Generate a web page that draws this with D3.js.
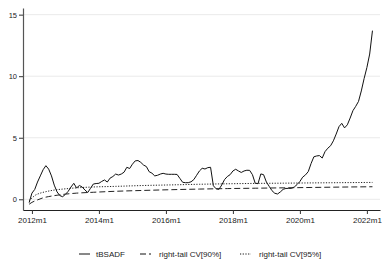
<!DOCTYPE html>
<html>
<head>
<meta charset="utf-8">
<script src="https://cdn.jsdelivr.net/npm/d3@7"></script>
<style>
  body { margin: 0; background: #fff; }
  svg { display: block; font-family: "Liberation Sans", Arial, sans-serif; }
</style>
</head>
<body>
<svg id="chart" width="382" height="264"></svg>
<script>
// months counted from 2012m1 (0 = 2012m1)
const startMonth = -1;
const bsadf = [
  -0.27, 0.5, 0.8, 1.4, 1.9, 2.4, 2.73, 2.45, 1.9, 1.15, 0.6, 0.3, 0.21,
  0.4, 0.65, 1.0, 1.3, 0.92, 1.12, 1.0, 0.75, 0.55, 0.9, 1.24, 1.28, 1.3,
  1.45, 1.57, 1.4, 1.72, 1.85, 2.05, 1.97, 2.05, 2.2, 2.6, 2.5, 2.85, 3.12,
  3.15, 3.0, 2.78, 2.66, 2.24, 2.12, 1.9, 1.95, 2.05, 2.11, 2.05, 2.03, 2.03,
  2.03, 2.02, 1.7, 1.38, 1.35, 1.35, 1.42, 1.6, 1.95, 2.3, 2.52, 2.46, 2.57,
  2.6, 1.1, 0.85, 0.81, 1.16, 1.6, 1.85, 2.0, 2.3, 2.44, 2.3, 2.18, 2.3,
  2.36, 2.35, 2.0, 1.3, 1.27, 2.06, 2.0, 1.4, 1.05, 0.7, 0.49, 0.43, 0.6,
  0.81, 0.88, 0.89, 0.89, 1.0, 1.2, 1.45, 1.8, 1.98, 2.25, 2.9, 3.45, 3.52,
  3.55, 3.35, 3.87, 4.15, 4.35, 4.75, 5.3, 5.9, 6.17, 5.8, 6.05, 6.6, 7.2,
  7.55, 7.95, 8.8, 9.8, 10.7, 11.8, 13.7
];

const cv90Months = [-1, 0, 2, 4, 6, 9, 12, 16, 22, 30, 40, 50, 60, 70, 80, 90, 100, 110, 122];
const cv90 = [-0.4, -0.25, -0.05, 0.12, 0.22, 0.33, 0.42, 0.5, 0.57, 0.65, 0.72, 0.78, 0.83, 0.87, 0.9, 0.93, 0.96, 0.99, 1.02];

const cv95Months = [-1, 0, 1, 3, 5, 8, 12, 16, 22, 30, 40, 50, 60, 70, 80, 90, 100, 110, 122];
const cv95 = [-0.1, 0.1, 0.3, 0.5, 0.62, 0.75, 0.85, 0.93, 1.0, 1.05, 1.12, 1.17, 1.22, 1.26, 1.29, 1.31, 1.33, 1.35, 1.37];

const xTicks = [0, 24, 48, 72, 96, 120];
const xTickLabels = ["2012m1", "2014m1", "2016m1", "2018m1", "2020m1", "2022m1"];
const yTicks = [0, 5, 10, 15];

const legendLabels = ["tBSADF", "right-tail CV[90%]", "right-tail CV[95%]"];
const legendDash = [null, "6,3", "1.2,1.5"];

const svg = d3.select('#chart');

const plot = {left: 23, right: 380, top: 8, bottom: 210};

const x = d3.scaleLinear()
    .domain([-3.2, 124.7])
    .range([plot.left, plot.right]);

const y = d3.scaleLinear()
    .domain([-0.87, 15.54])
    .range([plot.bottom, plot.top]);

// gridlines
svg.append('g')
    .selectAll('line')
    .data(yTicks)
    .join('line')
    .attr('x1', plot.left)
    .attr('x2', plot.right)
    .attr('y1', d => y(d))
    .attr('y2', d => y(d))
    .attr('stroke', '#eaeaea')
    .attr('stroke-width', 1);

// y axis
const yAxis = svg.append('g')
    .attr('transform', `translate(${plot.left},0)`)
    .call(d3.axisLeft(y).tickValues(yTicks).tickSize(4).tickPadding(2).tickSizeOuter(0));
yAxis.select('.domain').attr('stroke', '#555').attr('stroke-width', 1.2);
yAxis.selectAll('.tick line').attr('stroke', '#333');
yAxis.selectAll('text').attr('font-size', 7.5).attr('fill', '#222');

// x axis
const xAxis = svg.append('g')
    .attr('transform', `translate(0,${plot.bottom})`)
    .call(d3.axisBottom(x).tickValues(xTicks).tickFormat((d, i) => xTickLabels[i]).tickSize(4).tickPadding(3).tickSizeOuter(0));
xAxis.select('.domain').attr('stroke', '#222').attr('stroke-width', 1.2);
xAxis.selectAll('.tick line').attr('stroke', '#333');
xAxis.selectAll('text').attr('font-size', 8).attr('fill', '#222');

const line = d3.line()
    .x(d => x(d[0]))
    .y(d => y(d[1]));

const seriesData = [
  bsadf.map((v, i) => [startMonth + i, v]),
  cv90.map((v, i) => [cv90Months[i], v]),
  cv95.map((v, i) => [cv95Months[i], v])
];

const smooth = d3.line()
    .x(d => x(d[0]))
    .y(d => y(d[1]))
    .curve(d3.curveMonotoneX);

svg.append('g')
    .selectAll('path')
    .data(seriesData)
    .join('path')
    .attr('d', (d, i) => i === 0 ? line(d) : smooth(d))
    .attr('fill', 'none')
    .attr('stroke', (d, i) => i === 0 ? '#111' : '#222')
    .attr('stroke-width', 1)
    .attr('stroke-dasharray', (d, i) => legendDash[i]);

// legend
const legendX = [79, 140, 240];
const lg = svg.append('g')
    .attr('transform', 'translate(0,254)');

const item = lg.selectAll('g')
    .data(legendLabels)
    .join('g')
    .attr('transform', (d, i) => `translate(${legendX[i]},0)`);

item.append('line')
    .attr('x1', 0)
    .attr('x2', 11)
    .attr('stroke', '#111')
    .attr('stroke-width', 1)
    .attr('stroke-dasharray', (d, i) => legendDash[i]);

item.append('text')
    .attr('x', (d, i) => i === 0 ? 17 : 19)
    .attr('y', 3)
    .attr('font-size', 8)
    .attr('fill', '#222')
    .text(d => d);
</script>
</body>
</html>
